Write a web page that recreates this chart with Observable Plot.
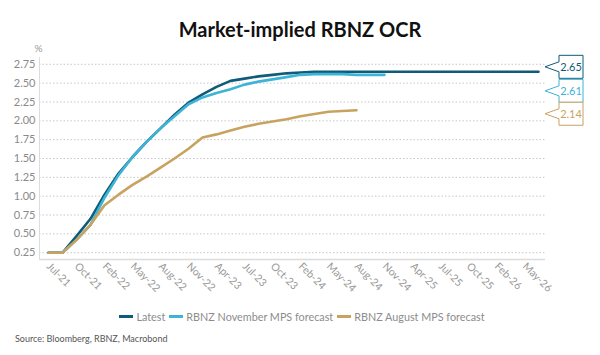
<!DOCTYPE html>
<html>
<head>
<meta charset="utf-8">
<script src="https://cdn.jsdelivr.net/npm/d3@7"></script>
<script src="https://cdn.jsdelivr.net/npm/@observablehq/plot@0.6"></script>
<style>
  html, body { margin: 0; padding: 0; background: #fff; }
  body { width: 600px; height: 355px; font-family: Lato, "Open Sans", sans-serif; position: relative; overflow: hidden; }
  #title { height: 42px; line-height: 58px; text-align: center; font-weight: 700; font-size: 20px; color: #111; }
  #legend { display: flex; justify-content: center; align-items: center; font-size: 10.8px; color: #8c8c8c; height: 18px; margin-top: 7px; }
  #legend .sw { display: inline-block; width: 14px; height: 3px; margin: 0 3px 0 4px; }
  #source { position: absolute; left: 15px; top: 333px; font-size: 9px; color: #555; }
  svg { display: block; }
</style>
</head>
<body>
<div id="title">Market-implied RBNZ OCR</div>
<div id="chart"></div>
<div id="legend"></div>
<div id="source">Source: Bloomberg, RBNZ, Macrobond</div>
<script>
const meetings = ["Jul-21","Aug-21","Oct-21","Nov-21","Feb-22","Apr-22","May-22","Jul-22","Aug-22","Oct-22","Nov-22","Feb-23","Apr-23","May-23","Jul-23","Aug-23","Oct-23","Nov-23","Feb-24","Apr-24","May-24","Jul-24","Aug-24","Oct-24","Nov-24","Feb-25","Apr-25","May-25","Jul-25","Aug-25","Oct-25","Nov-25","Feb-26","Apr-26","May-26","Jul-26"];
const tickLabels = ["Jul-21","Oct-21","Feb-22","May-22","Aug-22","Nov-22","Apr-23","Jul-23","Oct-23","Feb-24","May-24","Aug-24","Nov-24","Apr-25","Jul-25","Oct-25","Feb-26","May-26"];
const yTicks = [0.25, 0.5, 0.75, 1.0, 1.25, 1.5, 1.75, 2.0, 2.25, 2.5, 2.75];

const seriesNames = ["Latest", "RBNZ November MPS forecast", "RBNZ August MPS forecast"];
const seriesColors = ["#0f5b78", "#3db3d6", "#c8a35f"];

const latest = [0.25,0.25,0.47,0.70,1.02,1.30,1.52,1.72,1.90,2.08,2.24,2.35,2.45,2.53,2.56,2.59,2.61,2.63,2.64,2.65,2.65,2.65,2.65,2.65,2.65,2.65,2.65,2.65,2.65,2.65,2.65,2.65,2.65,2.65,2.65,2.65];
const november = [0.25,0.25,0.42,0.62,0.98,1.28,1.52,1.72,1.90,2.06,2.22,2.31,2.37,2.42,2.48,2.52,2.55,2.58,2.61,2.62,2.62,2.62,2.61,2.61,2.61];
const august = [0.25,0.25,0.42,0.62,0.88,1.02,1.15,1.26,1.38,1.50,1.63,1.78,1.82,1.87,1.92,1.96,1.99,2.02,2.06,2.09,2.12,2.13,2.14];

const seriesValues = [latest, november, august];
const rows = seriesValues.flatMap((vals, s) => vals.map((v, i) => ({series: seriesNames[s], date: meetings[i], value: v})));
const lastRows = seriesValues.map((vals, s) => ({series: seriesNames[s], value: vals[vals.length - 1], color: seriesColors[s]}));
const calloutDy = [-4.5, 16.5, 4];

function callouts(index, scales, values, dims) {
  const g = d3.create("svg:g");
  const tipX = dims.width - dims.marginRight;
  const bx = tipX + 14, bw = 24, bh = 23;
  lastRows.forEach((d, k) => {
    const cy = scales.y(d.value) + calloutDy[k];
    const top = cy - bh / 2, bot = cy + bh / 2;
    g.append("path")
      .attr("d", `M${bx},${top}H${bx + bw}V${bot}H${bx}V${cy + 5}L${tipX},${cy}L${bx},${cy - 5}Z`)
      .attr("fill", "#fff").attr("stroke", d.color).attr("stroke-width", 1);
    g.append("text").attr("x", bx + bw / 2).attr("y", cy).attr("dy", "0.35em")
      .attr("text-anchor", "middle").attr("font-size", 11).attr("font-family", "Lato, sans-serif")
      .attr("fill", d.color).text(d.value.toFixed(2));
  });
  return g.node();
}

const plot = Plot.plot({
  width: 600,
  height: 258,
  marginLeft: 39,
  marginRight: 55,
  marginTop: 15,
  marginBottom: 41,
  style: {fontFamily: "Lato, sans-serif", background: "#fff", overflow: "visible"},
  x: {type: "point", domain: meetings, padding: 0, insetLeft: 8, insetRight: 6},
  y: {domain: [0.16, 2.84]},
  color: {domain: seriesNames, range: seriesColors},
  marks: [
    Plot.gridY(yTicks, {stroke: "#c8c8c8", strokeOpacity: 1, strokeDasharray: "1.5,2"}),
    Plot.ruleY([0.16], {stroke: "#dcdcdc", strokeWidth: 1.5}),
    Plot.frame({anchor: "left", stroke: "#dcdcdc"}),
    Plot.axisY(yTicks, {tickSize: 0, tickPadding: 4, tickFormat: d3.format(".2f"), fill: "#8a8a8a", fontSize: 11, label: null}),
    Plot.axisX(tickLabels, {tickSize: 0, tickPadding: 5, tickRotate: 45, fill: "#999", fontSize: 10.5, label: null}),
    Plot.text(["%"], {frameAnchor: "top-left", dx: -5, dy: -13, fill: "#999", fontSize: 10}),
    Plot.line(rows, {x: "date", y: "value", z: "series", stroke: "series", strokeWidth: 2.6, strokeLinejoin: "round"}),
    callouts
  ]
});
document.getElementById("chart").appendChild(plot);

const legend = document.getElementById("legend");
seriesNames.forEach((n, i) => {
  const sw = document.createElement("span");
  sw.className = "sw";
  sw.style.background = seriesColors[i];
  legend.appendChild(sw);
  const t = document.createElement("span");
  t.textContent = n;
  legend.appendChild(t);
});
</script>
</body>
</html>
